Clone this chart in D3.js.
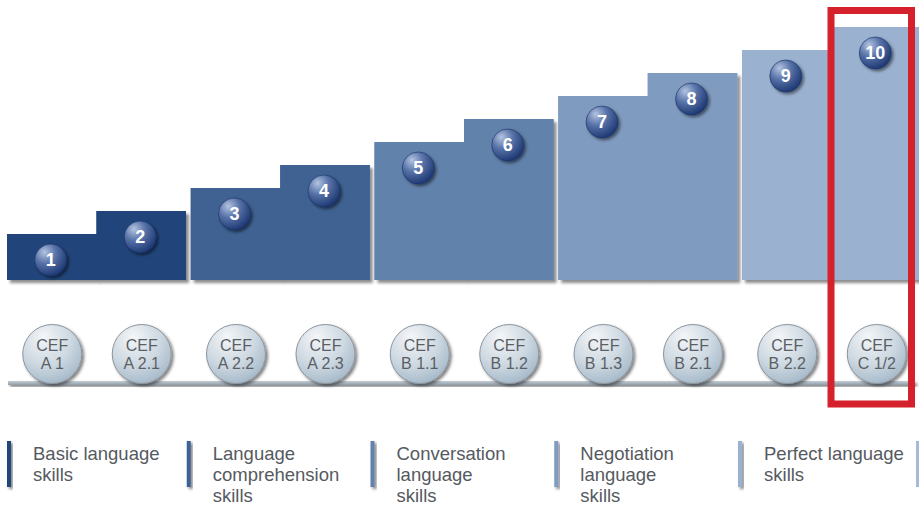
<!DOCTYPE html>
<html>
<head>
<meta charset="utf-8">
<script src="https://cdn.jsdelivr.net/npm/d3@7"></script>
<style>
  html, body { margin: 0; padding: 0; background: #fff; }
  svg { display: block; }
</style>
</head>
<body>
<svg id="chart" width="919" height="531"></svg>
<script>
// ---- data ----
const stepLabels = ["1", "2", "3", "4", "5", "6", "7", "8", "9", "10"];
const stepLevels = [1, 2, 3, 4, 5, 6, 7, 8, 9, 10];
const stepGroup = [0, 0, 1, 1, 2, 2, 3, 3, 4, 4];
const stepInGroup = [0, 1, 0, 1, 0, 1, 0, 1, 0, 1];
const cefLines1 = ["CEF", "CEF", "CEF", "CEF", "CEF", "CEF", "CEF", "CEF", "CEF", "CEF"];
const cefLines2 = ["A 1", "A 2.1", "A 2.2", "A 2.3", "B 1.1", "B 1.2", "B 1.3", "B 2.1", "B 2.2", "C 1/2"];
const groupNames = ["Basic language skills", "Language comprehension skills", "Conversation language skills", "Negotiation language skills", "Perfect language skills"];
const legendLines = [
  ["Basic language", "skills"],
  ["Language", "comprehension", "skills"],
  ["Conversation", "language", "skills"],
  ["Negotiation", "language", "skills"],
  ["Perfect language", "skills"]
];
const groupColors = ["#21457a", "#3f6292", "#6182ab", "#7f9bbf", "#9ab1cf"];
const highlightStep = 9; // index of highlighted step (10)

// ---- scales ----
const svg = d3.select("#chart");
const gx = d3.scaleBand().domain(d3.range(groupNames.length)).range([7, 921]).paddingInner(0.026).paddingOuter(0);
const sx = d3.scaleBand().domain([0, 1]).range([0, gx.bandwidth()]).padding(0);
const y = d3.scaleLinear().domain([-1, 10]).range([280, 27]);
const stepX = i => gx(stepGroup[i]) + sx(stepInGroup[i]);
const stepCx = i => stepX(i) + sx.bandwidth() / 2;
const FONT = "'Liberation Sans', Arial, Helvetica, sans-serif";

// ---- defs ----
const defs = svg.append("defs");
const sh = defs.append("filter").attr("id", "shadow").attr("x", "-10%").attr("y", "-10%").attr("width", "130%").attr("height", "130%");
sh.append("feDropShadow").attr("dx", 3).attr("dy", 3).attr("stdDeviation", 1.8).attr("flood-color", "#000").attr("flood-opacity", 0.45);
const sh2 = defs.append("filter").attr("id", "shadow2").attr("x", "-30%").attr("y", "-30%").attr("width", "170%").attr("height", "170%");
sh2.append("feDropShadow").attr("dx", 2).attr("dy", 2).attr("stdDeviation", 1.5).attr("flood-color", "#000").attr("flood-opacity", 0.5);

const numGrad = defs.append("radialGradient").attr("id", "numGrad").attr("cx", "35%").attr("cy", "30%").attr("r", "75%").attr("fx", "30%").attr("fy", "25%");
numGrad.append("stop").attr("offset", "0%").attr("stop-color", "#b4c4e0");
numGrad.append("stop").attr("offset", "45%").attr("stop-color", "#5873a8");
numGrad.append("stop").attr("offset", "100%").attr("stop-color", "#1a3570");

const cefGrad = defs.append("radialGradient").attr("id", "cefGrad").attr("cx", "40%").attr("cy", "30%").attr("r", "80%").attr("fx", "35%").attr("fy", "20%");
cefGrad.append("stop").attr("offset", "0%").attr("stop-color", "#f4f6f8");
cefGrad.append("stop").attr("offset", "55%").attr("stop-color", "#cdd8e1");
cefGrad.append("stop").attr("offset", "100%").attr("stop-color", "#9db2c4");

const lineGrad = defs.append("linearGradient").attr("id", "lineGrad").attr("x1", 0).attr("y1", 0).attr("x2", 0).attr("y2", 1);
lineGrad.append("stop").attr("offset", "0%").attr("stop-color", "#c4ced6");
lineGrad.append("stop").attr("offset", "100%").attr("stop-color", "#8f9ca7");

// ---- steps (bars) ----
svg.append("g").selectAll("rect.step")
  .data(stepLevels)
  .join("rect")
  .attr("class", "step")
  .attr("x", (d, i) => stepX(i))
  .attr("y", d => y(d))
  .attr("width", (d, i) => sx.bandwidth() + (stepInGroup[i] === 0 ? 0.5 : 0))
  .attr("height", d => y(-1) - y(d))
  .attr("fill", (d, i) => groupColors[stepGroup[i]])
  .attr("filter", "url(#shadow)");

// re-draw second steps above first steps' shadow (no shadow overlap inside group)
svg.append("g").selectAll("rect.cover")
  .data(stepLevels)
  .join("rect")
  .attr("x", (d, i) => stepX(i))
  .attr("y", d => y(d))
  .attr("width", (d, i) => sx.bandwidth() + (stepInGroup[i] === 0 ? 0.5 : 0))
  .attr("height", d => y(-1) - y(d))
  .attr("fill", (d, i) => groupColors[stepGroup[i]]);

// ---- numbered circles ----
const nums = svg.append("g").selectAll("g.num")
  .data(stepLevels)
  .join("g")
  .attr("transform", (d, i) => `translate(${stepCx(i) - 1},${y(d) + 26})`);
nums.append("circle").attr("r", 16).attr("fill", "url(#numGrad)").attr("stroke", "#1a3166").attr("stroke-width", 0.6).attr("filter", "url(#shadow2)");
nums.append("text")
  .text((d, i) => stepLabels[i])
  .attr("text-anchor", "middle")
  .attr("dy", "0.36em")
  .attr("fill", "#fff")
  .attr("font-family", FONT)
  .attr("font-weight", "bold")
  .attr("font-size", 18);

// ---- base line ----
svg.append("rect")
  .attr("x", 8).attr("y", 381).attr("width", 907).attr("height", 4)
  .attr("fill", "url(#lineGrad)")
  .attr("filter", "url(#shadow2)");

// ---- CEF circles ----
const cef = svg.append("g").selectAll("g.cef")
  .data(cefLines2)
  .join("g")
  .attr("transform", (d, i) => `translate(${stepCx(i) + 0.5},354)`);
cef.append("circle").attr("r", 29.5).attr("fill", "url(#cefGrad)").attr("stroke", "#8c949c").attr("stroke-width", 1).attr("filter", "url(#shadow2)");
cef.append("text")
  .text((d, i) => cefLines1[i])
  .attr("text-anchor", "middle").attr("y", -3)
  .attr("fill", "#5a5f66").attr("font-family", FONT).attr("font-size", 16);
cef.append("text")
  .text(d => d)
  .attr("text-anchor", "middle").attr("y", 15)
  .attr("fill", "#5a5f66").attr("font-family", FONT).attr("font-size", 16);

// ---- highlight box ----
svg.append("rect")
  .attr("x", stepX(highlightStep) - 0.5).attr("y", 10.5)
  .attr("width", 80.5).attr("height", 393.5)
  .attr("fill", "none")
  .attr("stroke", "#d4212b")
  .attr("stroke-width", 7);

// ---- legend ----
const legX = i => Math.max(7, gx(i) - 4);
const leg = svg.append("g").selectAll("g.leg")
  .data(legendLines)
  .join("g")
  .attr("transform", (d, i) => `translate(${legX(i)},441)`);
leg.append("rect").attr("width", 4).attr("height", 46)
  .attr("fill", (d, i) => groupColors[i])
  .attr("filter", "url(#shadow2)");
leg.each(function (lines) {
  const t = d3.select(this).append("text")
    .attr("x", 26).attr("y", 19)
    .attr("fill", "#555a60").attr("font-family", FONT).attr("font-size", 18.5);
  lines.forEach((ln, k) => {
    t.append("tspan").attr("x", 26).attr("y", 19 + k * 21).text(ln);
  });
});
// trailing partial legend bar at right edge
svg.append("rect")
  .attr("x", gx.range()[1] - 5).attr("y", 441).attr("width", 4).attr("height", 46)
  .attr("fill", "#a4bad6");
</script>
</body>
</html>
